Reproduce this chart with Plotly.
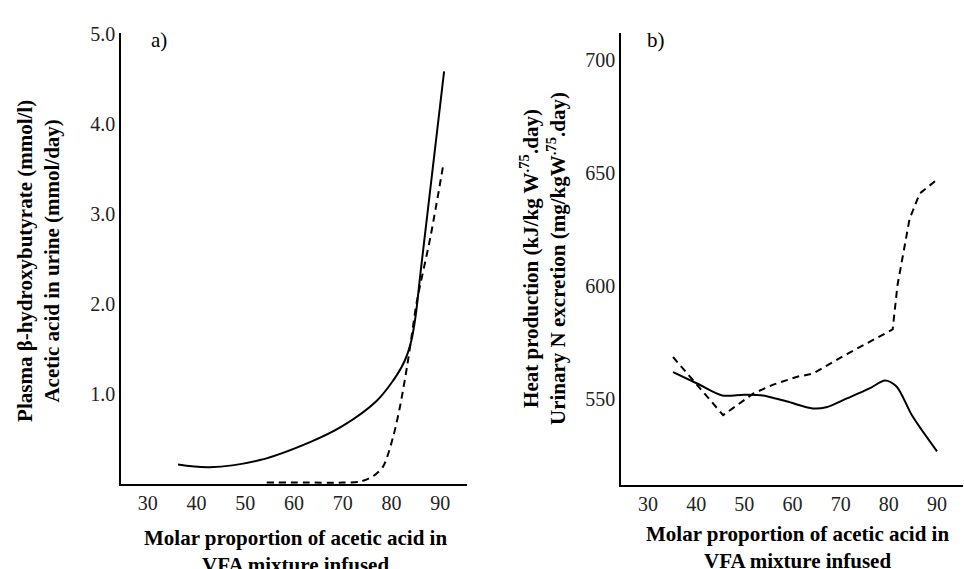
import plotly.graph_objects as go

# ---- data ----
a_solid_x = [36.2, 42.7, 53, 63.3, 70, 77, 80.3, 82.6, 84.0, 84.9, 86.0, 90.8]
a_solid_y = [0.22, 0.19, 0.27, 0.47, 0.65, 0.93, 1.15, 1.36, 1.58, 1.85, 2.37, 4.59]
a_dash_x = [54.4, 62, 70, 73.5, 76.2, 78.3, 80.3, 81.7, 83.2, 84.2, 85.2, 88, 90.6]
a_dash_y = [0.02, 0.02, 0.02, 0.03, 0.09, 0.2, 0.52, 0.85, 1.31, 1.67, 2.03, 2.75, 3.54]

b_solid_x = [35.2, 40.2, 45.4, 50, 53.9, 58.9, 64.2, 67, 71.3, 76, 79.2, 81.6, 84.9, 90]
b_solid_y = [562, 557, 551.7, 552, 551.7, 549, 546, 546.5, 550.4, 554.8, 558.3, 555.7, 542.6, 527]
b_dash_x = [35.2, 45.6, 51.9, 56, 61, 64.2, 71.3, 80.8, 81.8, 84.3, 86.4, 90.2]
b_dash_y = [568.7, 543, 552.6, 556.5, 560, 561.3, 570, 580.9, 600.4, 629.6, 640.9, 647.4]

x_ticks = [30, 40, 50, 60, 70, 80, 90]
a_y_ticks = [1, 2, 3, 4, 5]
b_y_ticks = [550, 600, 650, 700]

W, H = 964, 569
FONT = "Liberation Serif"

fig = go.Figure()
line_solid = dict(color="black", width=2, shape="spline", smoothing=1.0)
line_dash = dict(color="black", width=2, dash="7px,5px", shape="spline", smoothing=0.8)

fig.add_trace(go.Scatter(x=a_solid_x, y=a_solid_y, mode="lines", line=line_solid, xaxis="x", yaxis="y", showlegend=False))
fig.add_trace(go.Scatter(x=a_dash_x, y=a_dash_y, mode="lines", line=line_dash, xaxis="x", yaxis="y", showlegend=False))
fig.add_trace(go.Scatter(x=b_solid_x, y=b_solid_y, mode="lines", line=dict(color="black", width=2, shape="spline", smoothing=0.8),
                         xaxis="x2", yaxis="y2", showlegend=False))
fig.add_trace(go.Scatter(x=b_dash_x, y=b_dash_y, mode="lines", line=dict(color="black", width=2, dash="7px,5px"), xaxis="x2", yaxis="y2", showlegend=False))

axis_common = dict(showgrid=False, zeroline=False, showline=True, linecolor="black", linewidth=1.5,
                   ticks="", tickfont=dict(family=FONT, size=20, color="#222"))

fig.update_layout(
    width=W, height=H,
    margin=dict(l=0, r=0, t=0, b=0),
    paper_bgcolor="white", plot_bgcolor="white",
    xaxis=dict(domain=[121 / W, 467 / W], range=[24.5, 95.5], tickvals=x_ticks, anchor="y", **axis_common),
    yaxis=dict(domain=[1 - 483 / H, 1 - 24 / H], range=[0, 5.02], tickvals=a_y_ticks, tickformat=".1f", anchor="x", **axis_common),
    xaxis2=dict(domain=[621 / W, 963 / W], range=[24.4, 95.4], tickvals=x_ticks, anchor="y2", **axis_common),
    yaxis2=dict(domain=[1 - 484 / H, 1 - 24 / H], range=[512, 712], tickvals=b_y_ticks, anchor="x2", **axis_common),
)

title_font = dict(family=FONT, size=21, color="black")
ann = []
def px(x, y):
    return x / W, 1 - y / H

x0, y0 = px(39, 256)
ann.append(dict(x=x0, y=y0, text="<b>Plasma β-hydroxybutyrate (mmol/l)<br>Acetic acid in urine (mmol/day)</b>",
                textangle=-90, font=title_font))
x0, y0 = px(543, 254)
ann.append(dict(x=x0, y=y0, text="<b>Heat production (kJ/kg W<sup>.75</sup>.day)<br>Urinary N excretion (mg/kgW<sup>.75</sup>.day)</b>",
                textangle=-90, font=title_font))
x0, y0 = px(295, 551)
ann.append(dict(x=x0, y=y0, text="<b>Molar proportion of acetic acid in<br>VFA mixture infused</b>", font=title_font))
x0, y0 = px(797, 547)
ann.append(dict(x=x0, y=y0, text="<b>Molar proportion of acetic acid in<br>VFA mixture infused</b>", font=title_font))
x0, y0 = px(159, 32)
ann.append(dict(x=x0, y=y0, text="a)", font=dict(family=FONT, size=21, color="black")))
x0, y0 = px(656, 32)
ann.append(dict(x=x0, y=y0, text="b)", font=dict(family=FONT, size=21, color="black")))

for a in ann:
    a.update(xref="paper", yref="paper", showarrow=False, xanchor="center", yanchor="middle")
fig.update_layout(annotations=ann)

fig.write_html("out.html")
